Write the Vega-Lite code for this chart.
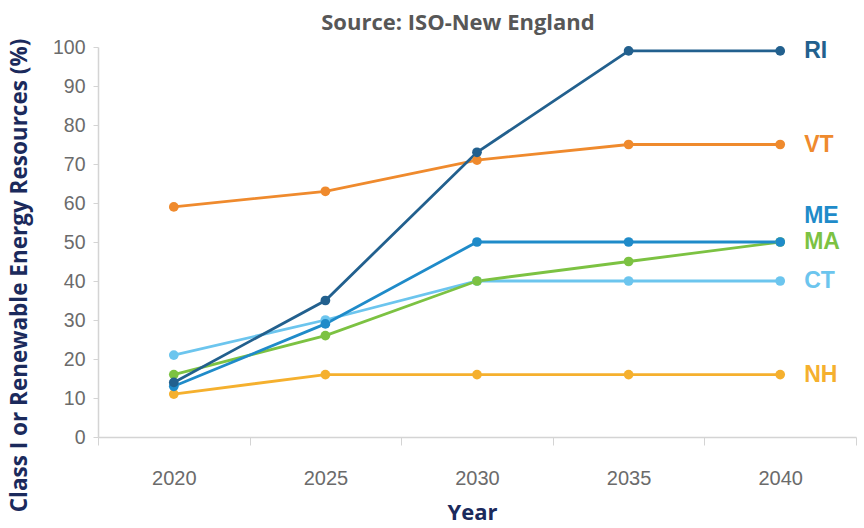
{
  "$schema": "https://vega.github.io/schema/vega-lite/v6.json",
  "autosize": "none",
  "width": 758,
  "height": 390,
  "padding": {"left": 98, "top": 47, "right": 8, "bottom": 91},
  "background": "white",
  "config": {
    "view": {"stroke": null},
    "font": "Liberation Sans"
  },
  "title": {
    "text": "Source: ISO-New England",
    "font": "Open Sans",
    "fontSize": 22,
    "fontWeight": "bold",
    "color": "#575757",
    "anchor": "middle",
    "dx": -19,
    "offset": 2
  },
  "data": {
    "values": [
      {"state": "NH", "year": "2020", "pct": 11},
      {"state": "NH", "year": "2025", "pct": 16},
      {"state": "NH", "year": "2030", "pct": 16},
      {"state": "NH", "year": "2035", "pct": 16},
      {"state": "NH", "year": "2040", "pct": 16},
      {"state": "CT", "year": "2020", "pct": 21},
      {"state": "CT", "year": "2025", "pct": 30},
      {"state": "CT", "year": "2030", "pct": 40},
      {"state": "CT", "year": "2035", "pct": 40},
      {"state": "CT", "year": "2040", "pct": 40},
      {"state": "MA", "year": "2020", "pct": 16},
      {"state": "MA", "year": "2025", "pct": 26},
      {"state": "MA", "year": "2030", "pct": 40},
      {"state": "MA", "year": "2035", "pct": 45},
      {"state": "MA", "year": "2040", "pct": 50},
      {"state": "ME", "year": "2020", "pct": 13},
      {"state": "ME", "year": "2025", "pct": 29},
      {"state": "ME", "year": "2030", "pct": 50},
      {"state": "ME", "year": "2035", "pct": 50},
      {"state": "ME", "year": "2040", "pct": 50},
      {"state": "VT", "year": "2020", "pct": 59},
      {"state": "VT", "year": "2025", "pct": 63},
      {"state": "VT", "year": "2030", "pct": 71},
      {"state": "VT", "year": "2035", "pct": 75},
      {"state": "VT", "year": "2040", "pct": 75},
      {"state": "RI", "year": "2020", "pct": 14},
      {"state": "RI", "year": "2025", "pct": 35},
      {"state": "RI", "year": "2030", "pct": 73},
      {"state": "RI", "year": "2035", "pct": 99},
      {"state": "RI", "year": "2040", "pct": 99}
    ]
  },
  "encoding": {
    "x": {
      "field": "year",
      "type": "ordinal",
      "scale": {"type": "band", "paddingInner": 0, "paddingOuter": 0},
      "axis": {
        "title": "Year",
        "titleFont": "Open Sans",
        "titleFontSize": 22,
        "titleFontWeight": "bold",
        "titleColor": "#1b2a5c",
        "titleBaseline": "alphabetic",
        "titleX": 374,
        "titleY": 82,
        "labelAngle": 0,
        "labelFontSize": 20,
        "labelColor": "#6b6b6b",
        "labelPadding": 23,
        "tickBand": "extent",
        "tickColor": "#d4d4d4",
        "tickSize": 8,
        "domainColor": "#d4d4d4",
        "domainWidth": 1.5,
        "grid": false
      }
    },
    "y": {
      "field": "pct",
      "type": "quantitative",
      "scale": {"domain": [0, 100], "nice": false},
      "axis": {
        "title": "Class I or Renewable Energy Resources (%)",
        "titleFont": "Open Sans",
        "titleFontSize": 22.5,
        "titleFontWeight": "bold",
        "titleColor": "#1b2a5c",
        "titleX": -67,
        "titleY": 228,
        "values": [0, 10, 20, 30, 40, 50, 60, 70, 80, 90, 100],
        "labelFontSize": 19.5,
        "labelColor": "#6b6b6b",
        "labelPadding": 8,
        "tickColor": "#d4d4d4",
        "tickSize": 5,
        "domainColor": "#d4d4d4",
        "domainWidth": 1.5,
        "grid": false
      }
    },
    "color": {
      "field": "state",
      "type": "nominal",
      "scale": {
        "domain": ["NH", "CT", "MA", "ME", "VT", "RI"],
        "range": ["#f5b02e", "#6cc5ee", "#7cc242", "#1f8bc9", "#ef8a2d", "#22608e"]
      },
      "legend": null
    }
  },
  "layer": [
    {
      "mark": {
        "type": "line",
        "strokeWidth": 2.8,
        "point": {"filled": true, "size": 95}
      },
      "encoding": {
        "detail": {"field": "state"},
        "order": {"field": "year"}
      }
    },
    {
      "transform": [{"filter": "datum.year == '2040' && datum.state != 'ME'"}],
      "mark": {
        "type": "text",
        "align": "left",
        "baseline": "middle",
        "dx": 24,
        "fontSize": 23,
        "fontWeight": "bold"
      },
      "encoding": {"text": {"field": "state"}}
    },
    {
      "transform": [{"filter": "datum.year == '2040' && datum.state == 'ME'"}],
      "mark": {
        "type": "text",
        "align": "left",
        "baseline": "middle",
        "dx": 24,
        "dy": -26,
        "fontSize": 23,
        "fontWeight": "bold"
      },
      "encoding": {"text": {"field": "state"}}
    }
  ]
}
